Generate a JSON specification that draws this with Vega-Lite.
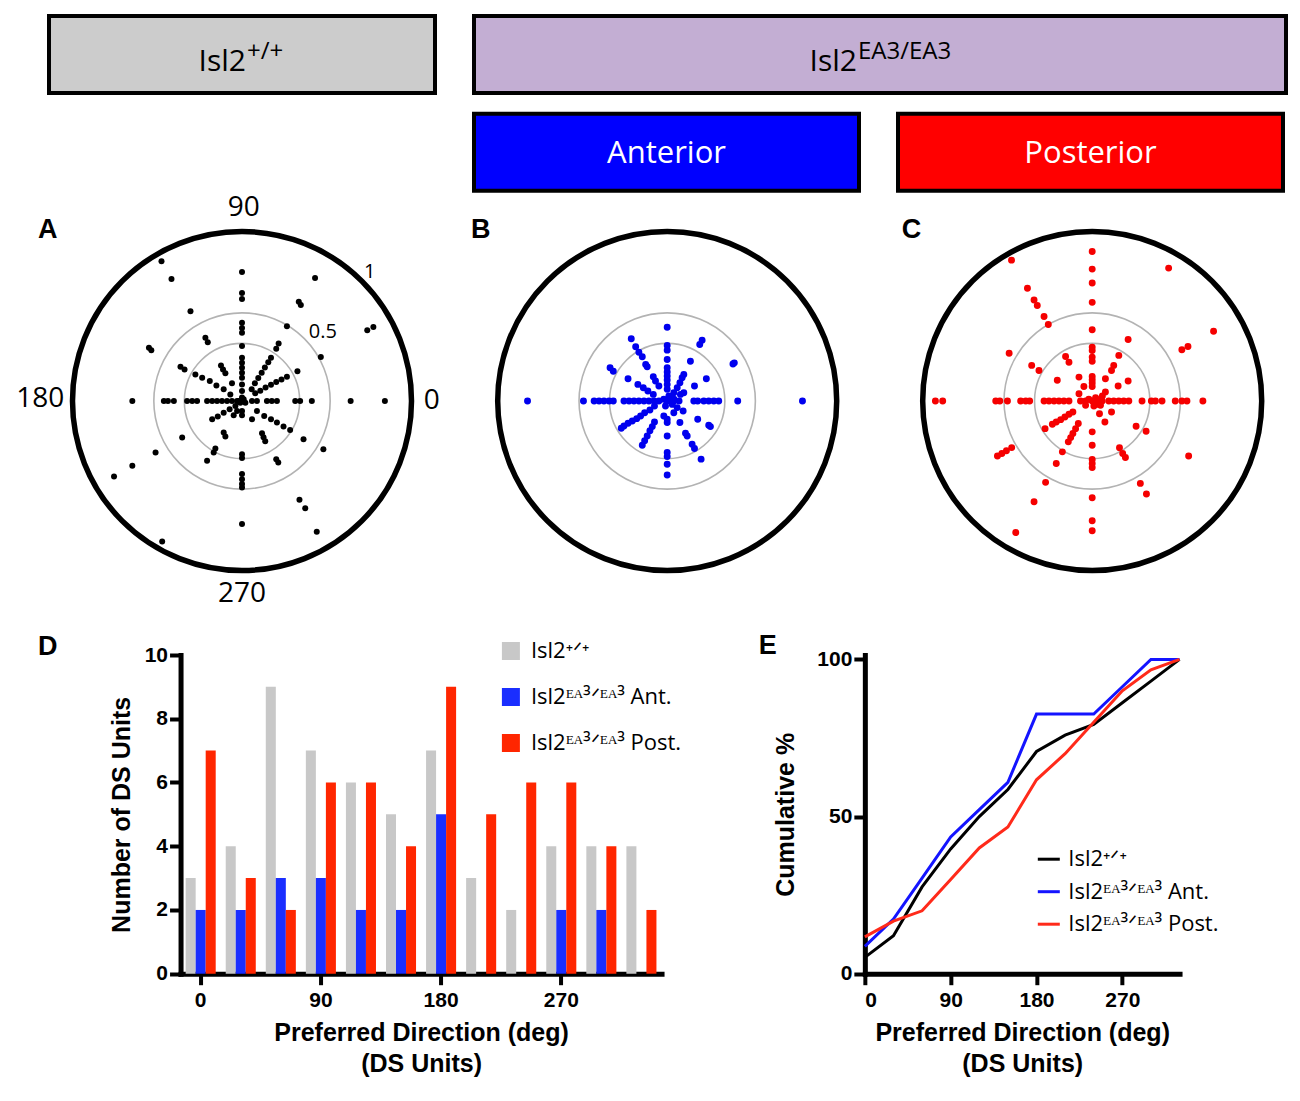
{
  "$schema": "https://vega.github.io/schema/vega-lite/v6.json",
  "background": "white",
  "padding": {"left": 16, "top": 14, "right": 10, "bottom": 10},
  "spacing": 23,
  "config": {
    "view": {"stroke": null},
    "font": "Open Sans",
    "axis": {"grid": false, "domainColor": "black", "domainWidth": 5, "domainCap": "square", "tickColor": "black", "tickWidth": 4, "labelFont": "Liberation Sans", "labelFontWeight": "bold", "labelFontSize": 21, "labelColor": "black", "titleFont": "Liberation Sans", "titleFontWeight": "bold", "titleFontSize": 25, "titleColor": "black"},
    "axisX": {"tickSize": 11, "labelPadding": 5, "labelAngle": 0, "titlePadding": 10, "titleLineHeight": 31},
    "axisY": {"tickSize": 11, "labelPadding": 2, "titlePadding": 10},
    "legend": {"title": null, "padding": 0, "labelFont": "Open Sans", "labelFontSize": 22, "labelColor": "black", "labelLimit": 400}
  },
  "datasets": {
    "ringHalf": [{"r": 0.52}],
    "ringThird": [{"r": 0.34}],
    "outer": [{"r": 1}],
    "dotsA": [
      {"x": -0.475, "y": 0.824}, {"x": -0.416, "y": 0.72}, {"x": -0.304, "y": 0.529}, {"x": 0, "y": 0.761}, {"x": 0, "y": 0.637}, {"x": 0, "y": 0.602}, {"x": 0.431, "y": 0.725}, {"x": 0.335, "y": 0.586}, {"x": 0.347, "y": 0.567}, {"x": 0.265, "y": 0.441}, {"x": 0.739, "y": 0.418}, {"x": 0.775, "y": 0.437}, {"x": 0.465, "y": 0.259}, {"x": 0.327, "y": 0.176},
      {"x": 0.843, "y": 0}, {"x": 0.641, "y": 0}, {"x": 0.412, "y": 0}, {"x": 0.343, "y": 0}, {"x": 0.314, "y": 0}, {"x": 0.206, "y": 0}, {"x": 0.176, "y": 0}, {"x": 0.147, "y": 0}, {"x": 0.088, "y": 0}, {"x": 0.059, "y": 0},
      {"x": -0.647, "y": 0}, {"x": -0.461, "y": 0}, {"x": -0.437, "y": 0}, {"x": -0.402, "y": 0}, {"x": -0.324, "y": 0}, {"x": -0.294, "y": 0}, {"x": -0.265, "y": 0}, {"x": -0.206, "y": 0}, {"x": -0.176, "y": 0}, {"x": -0.147, "y": 0}, {"x": -0.118, "y": 0}, {"x": -0.088, "y": 0}, {"x": -0.059, "y": 0}, {"x": -0.029, "y": 0},
      {"x": -0.549, "y": 0.314}, {"x": -0.535, "y": 0.3}, {"x": -0.363, "y": 0.202}, {"x": -0.339, "y": 0.186}, {"x": -0.275, "y": 0.157}, {"x": -0.235, "y": 0.137}, {"x": -0.19, "y": 0.118}, {"x": -0.151, "y": 0.092}, {"x": -0.108, "y": 0.069}, {"x": -0.069, "y": 0.039},
      {"x": -0.216, "y": 0.373}, {"x": -0.202, "y": 0.347}, {"x": -0.124, "y": 0.21}, {"x": -0.112, "y": 0.186}, {"x": -0.098, "y": 0.163}, {"x": -0.059, "y": 0.104},
      {"x": 0, "y": 0.461}, {"x": 0, "y": 0.431}, {"x": 0, "y": 0.402}, {"x": 0, "y": 0.324}, {"x": 0, "y": 0.255}, {"x": 0, "y": 0.225}, {"x": 0, "y": 0.196}, {"x": 0, "y": 0.167}, {"x": 0, "y": 0.137}, {"x": 0, "y": 0.098}, {"x": 0, "y": 0.059},
      {"x": 0.216, "y": 0.339}, {"x": 0.202, "y": 0.308}, {"x": 0.171, "y": 0.255}, {"x": 0.155, "y": 0.229}, {"x": 0.135, "y": 0.198}, {"x": 0.116, "y": 0.167}, {"x": 0.096, "y": 0.135}, {"x": 0.076, "y": 0.104}, {"x": 0.057, "y": 0.069},
      {"x": 0.265, "y": 0.143}, {"x": 0.233, "y": 0.127}, {"x": 0.202, "y": 0.112}, {"x": 0.171, "y": 0.096}, {"x": 0.139, "y": 0.08}, {"x": 0.108, "y": 0.061}, {"x": 0.078, "y": 0.045},
      {"x": 0.48, "y": -0.284}, {"x": 0.363, "y": -0.225}, {"x": 0.284, "y": -0.171}, {"x": 0.245, "y": -0.151}, {"x": 0.206, "y": -0.127}, {"x": 0.171, "y": -0.108}, {"x": 0.131, "y": -0.088}, {"x": 0.088, "y": -0.059},
      {"x": 0.441, "y": -0.771}, {"x": 0.339, "y": -0.582}, {"x": 0.373, "y": -0.633}, {"x": 0.202, "y": -0.343}, {"x": 0.214, "y": -0.363}, {"x": 0.118, "y": -0.19}, {"x": 0.127, "y": -0.214}, {"x": 0.137, "y": -0.237}, {"x": 0.059, "y": -0.108},
      {"x": 0, "y": -0.725}, {"x": 0, "y": -0.431}, {"x": 0, "y": -0.461}, {"x": 0, "y": -0.49}, {"x": 0, "y": -0.51}, {"x": 0, "y": -0.314}, {"x": 0, "y": -0.337}, {"x": 0, "y": -0.059}, {"x": 0, "y": -0.084},
      {"x": -0.471, "y": -0.829}, {"x": -0.206, "y": -0.353}, {"x": -0.157, "y": -0.28}, {"x": -0.167, "y": -0.304}, {"x": -0.108, "y": -0.186}, {"x": -0.098, "y": -0.21}, {"x": -0.049, "y": -0.084}, {"x": -0.029, "y": -0.059},
      {"x": -0.755, "y": -0.445}, {"x": -0.647, "y": -0.382}, {"x": -0.51, "y": -0.304}, {"x": -0.353, "y": -0.216}, {"x": -0.176, "y": -0.108}, {"x": -0.143, "y": -0.092}, {"x": -0.108, "y": -0.069}, {"x": -0.073, "y": -0.049}, {"x": -0.039, "y": -0.029},
      {"x": 0.01, "y": 0.01}, {"x": -0.01, "y": -0.01}, {"x": 0.02, "y": -0.01}, {"x": 0, "y": 0.02}, {"x": -0.02, "y": 0}
    ],
    "dotsB": [
      {"x": 0.798, "y": 0}, {"x": 0.416, "y": 0}, {"x": 0.304, "y": 0}, {"x": 0.275, "y": 0}, {"x": 0.245, "y": 0}, {"x": 0.216, "y": 0}, {"x": 0.18, "y": 0}, {"x": 0.157, "y": 0}, {"x": 0.07, "y": 0}, {"x": 0.04, "y": 0},
      {"x": -0.824, "y": 0}, {"x": -0.494, "y": 0}, {"x": -0.431, "y": 0}, {"x": -0.402, "y": 0}, {"x": -0.373, "y": 0}, {"x": -0.343, "y": 0}, {"x": -0.318, "y": 0}, {"x": -0.255, "y": 0}, {"x": -0.225, "y": 0}, {"x": -0.196, "y": 0}, {"x": -0.167, "y": 0}, {"x": -0.137, "y": 0}, {"x": -0.108, "y": 0}, {"x": -0.078, "y": 0}, {"x": -0.049, "y": 0},
      {"x": 0, "y": 0.435}, {"x": 0, "y": 0.327}, {"x": 0, "y": 0.3}, {"x": 0, "y": 0.245}, {"x": 0, "y": 0.196}, {"x": 0, "y": 0.171}, {"x": 0, "y": 0.147}, {"x": 0, "y": 0.124}, {"x": 0, "y": 0.098}, {"x": 0, "y": 0.069},
      {"x": -0.212, "y": 0.367}, {"x": -0.186, "y": 0.32}, {"x": -0.167, "y": 0.288}, {"x": -0.147, "y": 0.261}, {"x": -0.127, "y": 0.216}, {"x": -0.118, "y": 0.202}, {"x": -0.082, "y": 0.143}, {"x": -0.069, "y": 0.118}, {"x": -0.049, "y": 0.088},
      {"x": 0.206, "y": 0.359}, {"x": 0.192, "y": 0.333}, {"x": 0.137, "y": 0.235}, {"x": 0.098, "y": 0.157}, {"x": 0.088, "y": 0.137}, {"x": 0.075, "y": 0.108}, {"x": 0.059, "y": 0.078}, {"x": 0.039, "y": 0.049},
      {"x": 0.396, "y": 0.225}, {"x": 0.388, "y": 0.218}, {"x": 0.231, "y": 0.131}, {"x": 0.161, "y": 0.088}, {"x": 0.098, "y": 0.049}, {"x": 0.078, "y": 0.039},
      {"x": -0.337, "y": 0.196}, {"x": -0.318, "y": 0.176}, {"x": -0.231, "y": 0.131}, {"x": -0.173, "y": 0.098}, {"x": -0.141, "y": 0.078}, {"x": -0.114, "y": 0.059}, {"x": -0.082, "y": 0.039},
      {"x": -0.271, "y": -0.161}, {"x": -0.255, "y": -0.147}, {"x": -0.231, "y": -0.131}, {"x": -0.206, "y": -0.118}, {"x": -0.18, "y": -0.104}, {"x": -0.157, "y": -0.088}, {"x": -0.133, "y": -0.069}, {"x": -0.102, "y": -0.053}, {"x": -0.075, "y": -0.029},
      {"x": -0.147, "y": -0.261}, {"x": -0.133, "y": -0.235}, {"x": -0.118, "y": -0.206}, {"x": -0.102, "y": -0.176}, {"x": -0.088, "y": -0.151}, {"x": -0.075, "y": -0.124}, {"x": -0.02, "y": -0.088},
      {"x": 0, "y": -0.437}, {"x": 0, "y": -0.304}, {"x": 0, "y": -0.327}, {"x": 0, "y": -0.373}, {"x": 0, "y": -0.206}, {"x": 0, "y": -0.108}, {"x": 0, "y": -0.127},
      {"x": 0.2, "y": -0.343}, {"x": 0.161, "y": -0.28}, {"x": 0.147, "y": -0.255}, {"x": 0.118, "y": -0.206}, {"x": 0.108, "y": -0.19}, {"x": 0.075, "y": -0.127}, {"x": 0.039, "y": -0.069},
      {"x": 0.255, "y": -0.151}, {"x": 0.245, "y": -0.143}, {"x": 0.18, "y": -0.108}, {"x": 0.094, "y": -0.059}, {"x": 0.059, "y": -0.039},
      {"x": 0.02, "y": 0.01}, {"x": 0.03, "y": -0.02}, {"x": -0.01, "y": -0.03}, {"x": 0.01, "y": 0.03}, {"x": 0, "y": 0}, {"x": 0.04, "y": 0.01}, {"x": -0.02, "y": 0.01}
    ],
    "dotsC": [
      {"x": 0, "y": 0.882}, {"x": 0, "y": 0.778}, {"x": 0, "y": 0.696}, {"x": 0, "y": 0.582}, {"x": 0, "y": 0.42}, {"x": 0, "y": 0.318}, {"x": 0, "y": 0.298}, {"x": 0, "y": 0.259}, {"x": 0, "y": 0.235}, {"x": 0, "y": 0.145}, {"x": 0, "y": 0.125}, {"x": 0, "y": 0.106}, {"x": 0, "y": 0.086},
      {"x": -0.476, "y": 0.831}, {"x": -0.382, "y": 0.665}, {"x": -0.343, "y": 0.596}, {"x": -0.324, "y": 0.563}, {"x": -0.284, "y": 0.498}, {"x": -0.259, "y": 0.451}, {"x": -0.157, "y": 0.263}, {"x": -0.137, "y": 0.229}, {"x": -0.078, "y": 0.141}, {"x": -0.049, "y": 0.086},
      {"x": 0.451, "y": 0.784}, {"x": 0.212, "y": 0.363}, {"x": 0.157, "y": 0.269}, {"x": 0.127, "y": 0.21}, {"x": 0.114, "y": 0.18}, {"x": 0.078, "y": 0.131},
      {"x": 0.716, "y": 0.412}, {"x": 0.565, "y": 0.322}, {"x": 0.529, "y": 0.302}, {"x": 0.212, "y": 0.118}, {"x": 0.153, "y": 0.088}, {"x": 0.078, "y": 0.053},
      {"x": -0.49, "y": 0.282}, {"x": -0.357, "y": 0.21}, {"x": -0.314, "y": 0.18}, {"x": -0.206, "y": 0.122}, {"x": -0.078, "y": 0.043},
      {"x": 0.653, "y": 0}, {"x": 0.559, "y": 0}, {"x": 0.529, "y": 0}, {"x": 0.49, "y": 0}, {"x": 0.412, "y": 0}, {"x": 0.373, "y": 0}, {"x": 0.349, "y": 0}, {"x": 0.294, "y": 0}, {"x": 0.216, "y": 0}, {"x": 0.186, "y": 0}, {"x": 0.157, "y": 0}, {"x": 0.127, "y": 0}, {"x": 0.098, "y": 0}, {"x": 0.059, "y": 0}, {"x": 0.029, "y": 0},
      {"x": -0.925, "y": 0}, {"x": -0.882, "y": 0}, {"x": -0.569, "y": 0}, {"x": -0.545, "y": 0}, {"x": -0.5, "y": 0}, {"x": -0.422, "y": 0}, {"x": -0.392, "y": 0}, {"x": -0.369, "y": 0}, {"x": -0.284, "y": 0}, {"x": -0.255, "y": 0}, {"x": -0.225, "y": 0}, {"x": -0.196, "y": 0}, {"x": -0.167, "y": 0}, {"x": -0.137, "y": 0}, {"x": -0.069, "y": 0}, {"x": -0.039, "y": 0},
      {"x": -0.559, "y": -0.325}, {"x": -0.533, "y": -0.31}, {"x": -0.506, "y": -0.294}, {"x": -0.475, "y": -0.275}, {"x": -0.278, "y": -0.163}, {"x": -0.235, "y": -0.137}, {"x": -0.212, "y": -0.124}, {"x": -0.186, "y": -0.11}, {"x": -0.161, "y": -0.094}, {"x": -0.137, "y": -0.078}, {"x": -0.114, "y": -0.065}, {"x": -0.039, "y": -0.025},
      {"x": -0.451, "y": -0.776}, {"x": -0.343, "y": -0.594}, {"x": -0.275, "y": -0.48}, {"x": -0.212, "y": -0.369}, {"x": -0.176, "y": -0.3}, {"x": -0.141, "y": -0.241}, {"x": -0.127, "y": -0.216}, {"x": -0.114, "y": -0.192}, {"x": -0.098, "y": -0.163}, {"x": -0.082, "y": -0.133},
      {"x": 0, "y": -0.706}, {"x": 0, "y": -0.765}, {"x": 0, "y": -0.571}, {"x": 0, "y": -0.345}, {"x": 0, "y": -0.369}, {"x": 0, "y": -0.392}, {"x": 0, "y": -0.261}, {"x": 0, "y": -0.182},
      {"x": 0.32, "y": -0.549}, {"x": 0.284, "y": -0.486}, {"x": 0.196, "y": -0.333}, {"x": 0.18, "y": -0.31}, {"x": 0.161, "y": -0.276}, {"x": 0.075, "y": -0.124}, {"x": 0.043, "y": -0.075},
      {"x": 0.569, "y": -0.325}, {"x": 0.318, "y": -0.178}, {"x": 0.259, "y": -0.149}, {"x": 0.114, "y": -0.065}, {"x": 0.049, "y": -0.025},
      {"x": 0.02, "y": 0.02}, {"x": 0.05, "y": 0.01}, {"x": 0.03, "y": -0.02}, {"x": -0.02, "y": 0.01}, {"x": 0.06, "y": 0.03}, {"x": 0.01, "y": -0.03}, {"x": 0, "y": 0}, {"x": 0.04, "y": 0}
    ],
    "hist": [
      {"direction": 0, "genotype": "Isl2⁺ᐟ⁺", "units": 3}, {"direction": 0, "genotype": "Isl2ᴱᴬ³ᐟᴱᴬ³ Ant.", "units": 2}, {"direction": 0, "genotype": "Isl2ᴱᴬ³ᐟᴱᴬ³ Post.", "units": 7},
      {"direction": 30, "genotype": "Isl2⁺ᐟ⁺", "units": 4}, {"direction": 30, "genotype": "Isl2ᴱᴬ³ᐟᴱᴬ³ Ant.", "units": 2}, {"direction": 30, "genotype": "Isl2ᴱᴬ³ᐟᴱᴬ³ Post.", "units": 3},
      {"direction": 60, "genotype": "Isl2⁺ᐟ⁺", "units": 9}, {"direction": 60, "genotype": "Isl2ᴱᴬ³ᐟᴱᴬ³ Ant.", "units": 3}, {"direction": 60, "genotype": "Isl2ᴱᴬ³ᐟᴱᴬ³ Post.", "units": 2},
      {"direction": 90, "genotype": "Isl2⁺ᐟ⁺", "units": 7}, {"direction": 90, "genotype": "Isl2ᴱᴬ³ᐟᴱᴬ³ Ant.", "units": 3}, {"direction": 90, "genotype": "Isl2ᴱᴬ³ᐟᴱᴬ³ Post.", "units": 6},
      {"direction": 120, "genotype": "Isl2⁺ᐟ⁺", "units": 6}, {"direction": 120, "genotype": "Isl2ᴱᴬ³ᐟᴱᴬ³ Ant.", "units": 2}, {"direction": 120, "genotype": "Isl2ᴱᴬ³ᐟᴱᴬ³ Post.", "units": 6},
      {"direction": 150, "genotype": "Isl2⁺ᐟ⁺", "units": 5}, {"direction": 150, "genotype": "Isl2ᴱᴬ³ᐟᴱᴬ³ Ant.", "units": 2}, {"direction": 150, "genotype": "Isl2ᴱᴬ³ᐟᴱᴬ³ Post.", "units": 4},
      {"direction": 180, "genotype": "Isl2⁺ᐟ⁺", "units": 7}, {"direction": 180, "genotype": "Isl2ᴱᴬ³ᐟᴱᴬ³ Ant.", "units": 5}, {"direction": 180, "genotype": "Isl2ᴱᴬ³ᐟᴱᴬ³ Post.", "units": 9},
      {"direction": 210, "genotype": "Isl2⁺ᐟ⁺", "units": 3}, {"direction": 210, "genotype": "Isl2ᴱᴬ³ᐟᴱᴬ³ Post.", "units": 5},
      {"direction": 240, "genotype": "Isl2⁺ᐟ⁺", "units": 2}, {"direction": 240, "genotype": "Isl2ᴱᴬ³ᐟᴱᴬ³ Post.", "units": 6},
      {"direction": 270, "genotype": "Isl2⁺ᐟ⁺", "units": 4}, {"direction": 270, "genotype": "Isl2ᴱᴬ³ᐟᴱᴬ³ Ant.", "units": 2}, {"direction": 270, "genotype": "Isl2ᴱᴬ³ᐟᴱᴬ³ Post.", "units": 6},
      {"direction": 300, "genotype": "Isl2⁺ᐟ⁺", "units": 4}, {"direction": 300, "genotype": "Isl2ᴱᴬ³ᐟᴱᴬ³ Ant.", "units": 2}, {"direction": 300, "genotype": "Isl2ᴱᴬ³ᐟᴱᴬ³ Post.", "units": 4},
      {"direction": 330, "genotype": "Isl2⁺ᐟ⁺", "units": 4}, {"direction": 330, "genotype": "Isl2ᴱᴬ³ᐟᴱᴬ³ Post.", "units": 2}
    ],
    "cum": [
      {"direction": 0, "genotype": "Isl2⁺ᐟ⁺", "percent": 5.2}, {"direction": 30, "genotype": "Isl2⁺ᐟ⁺", "percent": 12.1}, {"direction": 60, "genotype": "Isl2⁺ᐟ⁺", "percent": 27.6}, {"direction": 90, "genotype": "Isl2⁺ᐟ⁺", "percent": 39.7}, {"direction": 120, "genotype": "Isl2⁺ᐟ⁺", "percent": 50}, {"direction": 150, "genotype": "Isl2⁺ᐟ⁺", "percent": 58.6}, {"direction": 180, "genotype": "Isl2⁺ᐟ⁺", "percent": 70.7}, {"direction": 210, "genotype": "Isl2⁺ᐟ⁺", "percent": 75.9}, {"direction": 240, "genotype": "Isl2⁺ᐟ⁺", "percent": 79.3}, {"direction": 270, "genotype": "Isl2⁺ᐟ⁺", "percent": 86.2}, {"direction": 300, "genotype": "Isl2⁺ᐟ⁺", "percent": 93.1}, {"direction": 330, "genotype": "Isl2⁺ᐟ⁺", "percent": 100},
      {"direction": 0, "genotype": "Isl2ᴱᴬ³ᐟᴱᴬ³ Ant.", "percent": 8.7}, {"direction": 30, "genotype": "Isl2ᴱᴬ³ᐟᴱᴬ³ Ant.", "percent": 17.4}, {"direction": 60, "genotype": "Isl2ᴱᴬ³ᐟᴱᴬ³ Ant.", "percent": 30.4}, {"direction": 90, "genotype": "Isl2ᴱᴬ³ᐟᴱᴬ³ Ant.", "percent": 43.5}, {"direction": 120, "genotype": "Isl2ᴱᴬ³ᐟᴱᴬ³ Ant.", "percent": 52.2}, {"direction": 150, "genotype": "Isl2ᴱᴬ³ᐟᴱᴬ³ Ant.", "percent": 60.9}, {"direction": 180, "genotype": "Isl2ᴱᴬ³ᐟᴱᴬ³ Ant.", "percent": 82.6}, {"direction": 210, "genotype": "Isl2ᴱᴬ³ᐟᴱᴬ³ Ant.", "percent": 82.6}, {"direction": 240, "genotype": "Isl2ᴱᴬ³ᐟᴱᴬ³ Ant.", "percent": 82.6}, {"direction": 270, "genotype": "Isl2ᴱᴬ³ᐟᴱᴬ³ Ant.", "percent": 91.3}, {"direction": 300, "genotype": "Isl2ᴱᴬ³ᐟᴱᴬ³ Ant.", "percent": 100}, {"direction": 330, "genotype": "Isl2ᴱᴬ³ᐟᴱᴬ³ Ant.", "percent": 100},
      {"direction": 0, "genotype": "Isl2ᴱᴬ³ᐟᴱᴬ³ Post.", "percent": 11.7}, {"direction": 30, "genotype": "Isl2ᴱᴬ³ᐟᴱᴬ³ Post.", "percent": 16.7}, {"direction": 60, "genotype": "Isl2ᴱᴬ³ᐟᴱᴬ³ Post.", "percent": 20}, {"direction": 90, "genotype": "Isl2ᴱᴬ³ᐟᴱᴬ³ Post.", "percent": 30}, {"direction": 120, "genotype": "Isl2ᴱᴬ³ᐟᴱᴬ³ Post.", "percent": 40}, {"direction": 150, "genotype": "Isl2ᴱᴬ³ᐟᴱᴬ³ Post.", "percent": 46.7}, {"direction": 180, "genotype": "Isl2ᴱᴬ³ᐟᴱᴬ³ Post.", "percent": 61.7}, {"direction": 210, "genotype": "Isl2ᴱᴬ³ᐟᴱᴬ³ Post.", "percent": 70}, {"direction": 240, "genotype": "Isl2ᴱᴬ³ᐟᴱᴬ³ Post.", "percent": 80}, {"direction": 270, "genotype": "Isl2ᴱᴬ³ᐟᴱᴬ³ Post.", "percent": 90}, {"direction": 300, "genotype": "Isl2ᴱᴬ³ᐟᴱᴬ³ Post.", "percent": 96.7}, {"direction": 330, "genotype": "Isl2ᴱᴬ³ᐟᴱᴬ³ Post.", "percent": 100}
    ]
  },
  "vconcat": [
    {
      "spacing": 0,
      "vconcat": [
        {
          "spacing": 35,
          "hconcat": [
            {
              "width": 386, "height": 77,
              "view": {"fill": "#cccccc", "stroke": "black", "strokeWidth": 4},
              "data": {"values": [{"gene": "Isl2", "allele": "+/+"}]},
              "layer": [
                {"mark": {"type": "text", "align": "right", "baseline": "alphabetic", "dx": 4, "dy": 16, "fontSize": 30, "font": "Open Sans", "color": "black"}, "encoding": {"text": {"field": "gene"}}},
                {"mark": {"type": "text", "align": "left", "baseline": "alphabetic", "dx": 5, "dy": 4.5, "fontSize": 24, "font": "Open Sans", "color": "black"}, "encoding": {"text": {"field": "allele"}}}
              ]
            },
            {
              "spacing": 16.7,
              "vconcat": [
                {
                  "width": 812, "height": 77,
                  "view": {"fill": "#c3aed3", "stroke": "black", "strokeWidth": 4},
                  "data": {"values": [{"gene": "Isl2", "allele": "EA3/EA3"}]},
                  "layer": [
                    {"mark": {"type": "text", "align": "right", "baseline": "alphabetic", "dx": -23, "dy": 16, "fontSize": 30, "font": "Open Sans", "color": "black"}, "encoding": {"text": {"field": "gene"}}},
                    {"mark": {"type": "text", "align": "left", "baseline": "alphabetic", "dx": -22, "dy": 4.5, "fontSize": 24, "font": "Open Sans", "color": "black"}, "encoding": {"text": {"field": "allele"}}}
                  ]
                },
                {
                  "spacing": 35,
                  "hconcat": [
                    {
                      "width": 385, "height": 77,
                      "view": {"fill": "#0000ff", "stroke": "black", "strokeWidth": 4},
                      "data": {"values": [{"region": "Anterior"}]},
                      "mark": {"type": "text", "align": "center", "baseline": "alphabetic", "dy": 11, "fontSize": 31, "font": "Open Sans", "color": "white"},
                      "encoding": {"text": {"field": "region"}}
                    },
                    {
                      "width": 385, "height": 77,
                      "view": {"fill": "#ff0000", "stroke": "black", "strokeWidth": 4},
                      "data": {"values": [{"region": "Posterior"}]},
                      "mark": {"type": "text", "align": "center", "baseline": "alphabetic", "dy": 11, "fontSize": 31, "font": "Open Sans", "color": "white"},
                      "encoding": {"text": {"field": "region"}}
                    }
                  ]
                }
              ]
            }
          ]
        },
        {
          "spacing": 30.2,
          "hconcat": [
            {
              "width": 386, "height": 414,
              "layer": [
                {"data": {"name": "ringHalf"}, "mark": {"type": "arc", "filled": false, "stroke": "#b3b3b3", "strokeWidth": 1.6},
                 "encoding": {"theta": {"value": 0}, "theta2": {"value": 6.2832}, "radius": {"field": "r", "type": "quantitative", "scale": {"type": "linear", "domain": [0, 1.1386], "range": [0, 193], "zero": true}}}},
                {"data": {"name": "ringThird"}, "mark": {"type": "arc", "filled": false, "stroke": "#b3b3b3", "strokeWidth": 1.6},
                 "encoding": {"theta": {"value": 0}, "theta2": {"value": 6.2832}, "radius": {"field": "r", "type": "quantitative", "scale": {"type": "linear", "domain": [0, 1.1386], "range": [0, 193], "zero": true}}}},
                {"data": {"name": "outer"}, "mark": {"type": "arc", "filled": false, "stroke": "black", "strokeWidth": 5.5},
                 "encoding": {"theta": {"value": 0}, "theta2": {"value": 6.2832}, "radius": {"field": "r", "type": "quantitative", "scale": {"type": "linear", "domain": [0, 1.1386], "range": [0, 193], "zero": true}}}},
                {"data": {"name": "dotsA"}, "mark": {"type": "circle", "size": 36, "color": "black", "opacity": 1},
                 "encoding": {"x": {"field": "x", "type": "quantitative", "scale": {"domain": [-1.1386, 1.1386], "nice": false, "zero": false}, "axis": null}, "y": {"field": "y", "type": "quantitative", "scale": {"domain": [-1.2212, 1.2212], "nice": false, "zero": false}, "axis": null}}},
                {"data": {"values": [{"label": "90", "x": 0.01, "y": 1.14}, {"label": "180", "x": -1.19, "y": 0.01}, {"label": "0", "x": 1.12, "y": 0}, {"label": "270", "x": 0, "y": -1.14}]},
                 "mark": {"type": "text", "fontSize": 28, "font": "Open Sans", "align": "center", "baseline": "middle", "color": "black"},
                 "encoding": {"x": {"field": "x", "type": "quantitative"}, "y": {"field": "y", "type": "quantitative"}, "text": {"field": "label"}}},
                {"data": {"values": [{"label": "1", "x": 0.754, "y": 0.759}, {"label": "0.5", "x": 0.477, "y": 0.409}]},
                 "mark": {"type": "text", "fontSize": 20, "font": "Open Sans", "align": "center", "baseline": "middle", "color": "black"},
                 "encoding": {"x": {"field": "x", "type": "quantitative"}, "y": {"field": "y", "type": "quantitative"}, "text": {"field": "label"}}},
                {"data": {"values": [{"label": "A", "x": -1.146, "y": 1.01}]},
                 "mark": {"type": "text", "fontSize": 27, "font": "Liberation Sans", "fontWeight": "bold", "align": "center", "baseline": "middle", "color": "black"},
                 "encoding": {"x": {"field": "x", "type": "quantitative"}, "y": {"field": "y", "type": "quantitative"}, "text": {"field": "label"}}}
              ]
            },
            {
              "spacing": 39,
              "hconcat": [
                {
                  "width": 386, "height": 414,
                  "layer": [
                    {"data": {"name": "ringHalf"}, "mark": {"type": "arc", "filled": false, "stroke": "#b3b3b3", "strokeWidth": 1.6},
                     "encoding": {"theta": {"value": 0}, "theta2": {"value": 6.2832}, "radius": {"field": "r", "type": "quantitative", "scale": {"type": "linear", "domain": [0, 1.1386], "range": [0, 193], "zero": true}}}},
                    {"data": {"name": "ringThird"}, "mark": {"type": "arc", "filled": false, "stroke": "#b3b3b3", "strokeWidth": 1.6},
                     "encoding": {"theta": {"value": 0}, "theta2": {"value": 6.2832}, "radius": {"field": "r", "type": "quantitative", "scale": {"type": "linear", "domain": [0, 1.1386], "range": [0, 193], "zero": true}}}},
                    {"data": {"name": "outer"}, "mark": {"type": "arc", "filled": false, "stroke": "black", "strokeWidth": 5.5},
                     "encoding": {"theta": {"value": 0}, "theta2": {"value": 6.2832}, "radius": {"field": "r", "type": "quantitative", "scale": {"type": "linear", "domain": [0, 1.1386], "range": [0, 193], "zero": true}}}},
                    {"data": {"name": "dotsB"}, "mark": {"type": "circle", "size": 48, "color": "#0000ee", "opacity": 1},
                     "encoding": {"x": {"field": "x", "type": "quantitative", "scale": {"domain": [-1.1386, 1.1386], "nice": false, "zero": false}, "axis": null}, "y": {"field": "y", "type": "quantitative", "scale": {"domain": [-1.2212, 1.2212], "nice": false, "zero": false}, "axis": null}}},
                    {"data": {"values": [{"label": "B", "x": -1.1, "y": 1.01}]},
                     "mark": {"type": "text", "fontSize": 27, "font": "Liberation Sans", "fontWeight": "bold", "align": "center", "baseline": "middle", "color": "black"},
                     "encoding": {"x": {"field": "x", "type": "quantitative"}, "y": {"field": "y", "type": "quantitative"}, "text": {"field": "label"}}}
                  ]
                },
                {
                  "width": 386, "height": 414,
                  "layer": [
                    {"data": {"name": "ringHalf"}, "mark": {"type": "arc", "filled": false, "stroke": "#b3b3b3", "strokeWidth": 1.6},
                     "encoding": {"theta": {"value": 0}, "theta2": {"value": 6.2832}, "radius": {"field": "r", "type": "quantitative", "scale": {"type": "linear", "domain": [0, 1.1386], "range": [0, 193], "zero": true}}}},
                    {"data": {"name": "ringThird"}, "mark": {"type": "arc", "filled": false, "stroke": "#b3b3b3", "strokeWidth": 1.6},
                     "encoding": {"theta": {"value": 0}, "theta2": {"value": 6.2832}, "radius": {"field": "r", "type": "quantitative", "scale": {"type": "linear", "domain": [0, 1.1386], "range": [0, 193], "zero": true}}}},
                    {"data": {"name": "outer"}, "mark": {"type": "arc", "filled": false, "stroke": "black", "strokeWidth": 5.5},
                     "encoding": {"theta": {"value": 0}, "theta2": {"value": 6.2832}, "radius": {"field": "r", "type": "quantitative", "scale": {"type": "linear", "domain": [0, 1.1386], "range": [0, 193], "zero": true}}}},
                    {"data": {"name": "dotsC"}, "mark": {"type": "circle", "size": 48, "color": "#f50000", "opacity": 1},
                     "encoding": {"x": {"field": "x", "type": "quantitative", "scale": {"domain": [-1.1386, 1.1386], "nice": false, "zero": false}, "axis": null}, "y": {"field": "y", "type": "quantitative", "scale": {"domain": [-1.2212, 1.2212], "nice": false, "zero": false}, "axis": null}}},
                    {"data": {"values": [{"label": "C", "x": -1.066, "y": 1.01}]},
                     "mark": {"type": "text", "fontSize": 27, "font": "Liberation Sans", "fontWeight": "bold", "align": "center", "baseline": "middle", "color": "black"},
                     "encoding": {"x": {"field": "x", "type": "quantitative"}, "y": {"field": "y", "type": "quantitative"}, "text": {"field": "label"}}}
                  ]
                }
              ]
            }
          ]
        }
      ]
    },
    {
      "spacing": 50.55,
      "hconcat": [
        {
          "width": 1, "height": 1,
          "data": {"values": [{"panel": "D"}]},
          "mark": {"type": "text", "align": "center", "baseline": "alphabetic", "dx": -1.7, "dy": -0.5, "font": "Liberation Sans", "fontWeight": "bold", "fontSize": 27, "color": "black"},
          "encoding": {"text": {"field": "panel"}}
        },
        {
          "spacing": 97.3,
          "hconcat": [
            {
              "width": 481, "height": 318.7,
              "data": {"name": "hist"},
              "mark": {"type": "bar"},
              "encoding": {
                "x": {"field": "direction", "type": "ordinal", "scale": {"paddingInner": 0.25, "paddingOuter": 0.1275}, "axis": {"values": [0, 90, 180, 270], "labelAngle": 0}, "title": ["Preferred Direction (deg)", "(DS Units)"]},
                "xOffset": {"field": "genotype", "type": "nominal", "scale": {"domain": ["Isl2⁺ᐟ⁺", "Isl2ᴱᴬ³ᐟᴱᴬ³ Ant.", "Isl2ᴱᴬ³ᐟᴱᴬ³ Post."], "paddingInner": 0, "paddingOuter": 0}},
                "y": {"field": "units", "type": "quantitative", "scale": {"domain": [0, 10], "nice": false}, "axis": {"values": [0, 2, 4, 6, 8, 10]}, "title": "Number of DS Units"},
                "color": {"field": "genotype", "type": "nominal", "scale": {"domain": ["Isl2⁺ᐟ⁺", "Isl2ᴱᴬ³ᐟᴱᴬ³ Ant.", "Isl2ᴱᴬ³ᐟᴱᴬ³ Post."], "range": ["#c8c8c8", "#1a2eff", "#ff2600"]},
                  "legend": {"orient": "none", "legendX": 450.9, "legendY": 624, "symbolType": "square", "symbolSize": 324, "symbolStrokeWidth": 0, "labelOffset": 9, "rowPadding": 24}}
              }
            },
            {
              "width": 314.7, "height": 318.7,
              "title": {"text": "E", "anchor": "start", "frame": "group", "dx": -106, "offset": -32.6, "baseline": "alphabetic", "font": "Liberation Sans", "fontSize": 27, "fontWeight": "bold", "color": "black"},
              "data": {"name": "cum"},
              "mark": {"type": "line", "strokeWidth": 3},
              "encoding": {
                "x": {"field": "direction", "type": "quantitative", "scale": {"domain": [0, 330], "nice": false}, "axis": {"values": [0, 90, 180, 270]}, "title": ["Preferred Direction (deg)", "(DS Units)"]},
                "y": {"field": "percent", "type": "quantitative", "scale": {"domain": [0, 101.4], "nice": false}, "axis": {"values": [0, 50, 100], "titlePadding": 18}, "title": "Cumulative %"},
                "stroke": {"field": "genotype", "type": "nominal", "sort": ["Isl2⁺ᐟ⁺", "Isl2ᴱᴬ³ᐟᴱᴬ³ Ant.", "Isl2ᴱᴬ³ᐟᴱᴬ³ Post."], "scale": {"range": ["#000000", "#1414ff", "#ff2a1a"]},
                  "legend": {"orient": "none", "legendX": 987.3, "legendY": 830.7, "symbolType": "stroke", "symbolSize": 484, "symbolStrokeWidth": 3, "labelOffset": 7, "rowPadding": 8.5}}
              }
            }
          ]
        }
      ]
    }
  ]
}
